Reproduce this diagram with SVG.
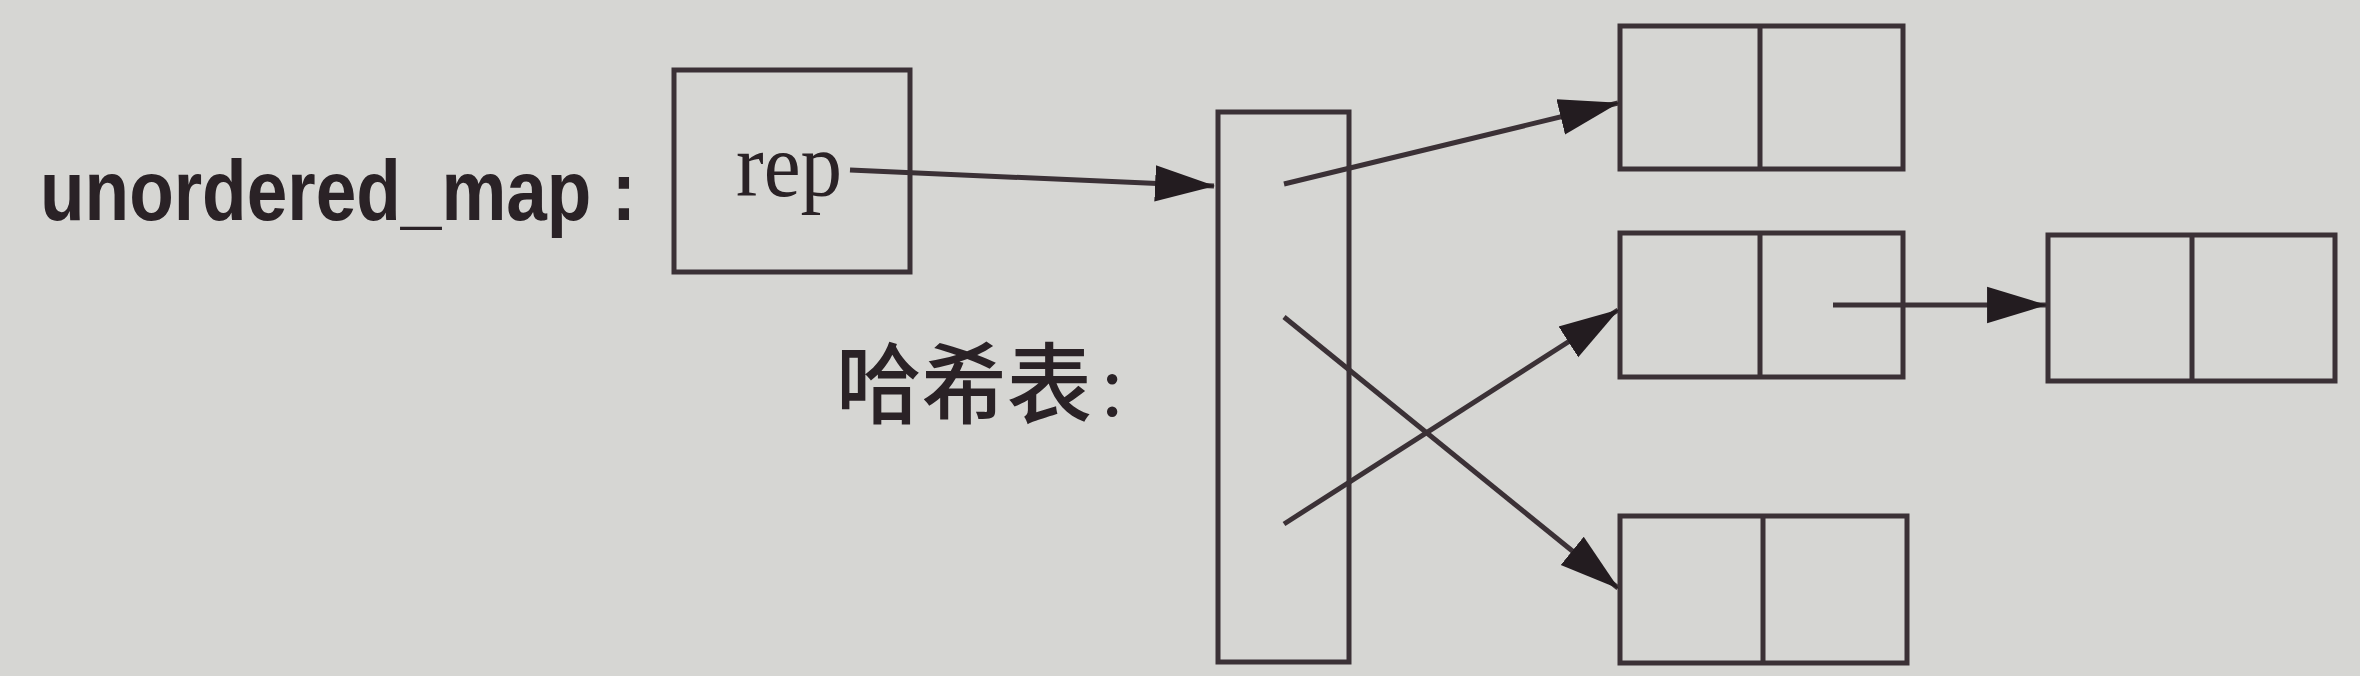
<svg xmlns="http://www.w3.org/2000/svg" width="2360" height="676" viewBox="0 0 2360 676">
<style>
.box{fill:none;stroke:#3b3136;stroke-width:5}
.div{stroke:#3b3136;stroke-width:5}
.edge{fill:none;stroke:#3b3136;stroke-width:5;marker-end:url(#arr)}
.lbl{font-family:"Liberation Sans",Arial,sans-serif;font-weight:bold;fill:#2a2226}
.rep{font-family:"Liberation Serif","Times New Roman",serif;fill:#2a2226}
.cjk{font-family:"Liberation Serif","Noto Sans CJK SC",sans-serif;fill:#2a2226}
</style>
<defs>
<marker id="arr" markerUnits="userSpaceOnUse" markerWidth="60" markerHeight="40" viewBox="0 0 56 34" refX="55" refY="17" orient="auto">
<path d="M0,0 L56,17 L0,34 Z" fill="#231c20"/>
</marker>
</defs>
<rect x="0" y="0" width="2360" height="676" fill="#d6d6d3"/>
<g id="label-unordered-map">
<text class="lbl" x="40" y="220" font-size="86" textLength="596" lengthAdjust="spacingAndGlyphs">unordered_map :</text>
</g>
<g id="node-rep">
<rect class="box" x="674" y="70" width="236" height="202"/>
<text class="rep" x="736" y="196" font-size="90" textLength="106" lengthAdjust="spacingAndGlyphs">rep</text>
</g>
<g id="label-hashtable">
<text class="cjk" x="836" y="416" font-size="88" font-weight="500" textLength="256" lengthAdjust="spacingAndGlyphs">哈希表</text>
<text class="cjk" x="1100" y="416" font-size="88">:</text>
</g>
<g id="node-hashtable">
<rect class="box" x="1218" y="112" width="131" height="550"/>
</g>
<g id="node-bucket1">
<rect class="box" x="1620" y="26" width="283" height="143"/>
<line class="div" x1="1760" y1="26" x2="1760" y2="169"/>
</g>
<g id="node-bucket2">
<rect class="box" x="1620" y="233" width="283" height="144"/>
<line class="div" x1="1760" y1="233" x2="1760" y2="377"/>
</g>
<g id="node-bucket2-next">
<rect class="box" x="2048" y="235" width="287" height="146"/>
<line class="div" x1="2192" y1="235" x2="2192" y2="381"/>
</g>
<g id="node-bucket3">
<rect class="box" x="1620" y="516" width="287" height="147"/>
<line class="div" x1="1763" y1="516" x2="1763" y2="663"/>
</g>
<g id="connectors">
<line class="edge" x1="850" y1="170" x2="1214" y2="186"/>
<line class="edge" x1="1284" y1="184" x2="1618" y2="103"/>
<line class="edge" x1="1284" y1="317" x2="1618" y2="588"/>
<line class="edge" x1="1284" y1="524" x2="1618" y2="310"/>
<line class="edge" x1="1833" y1="305" x2="2046" y2="305"/>
</g>
</svg>
